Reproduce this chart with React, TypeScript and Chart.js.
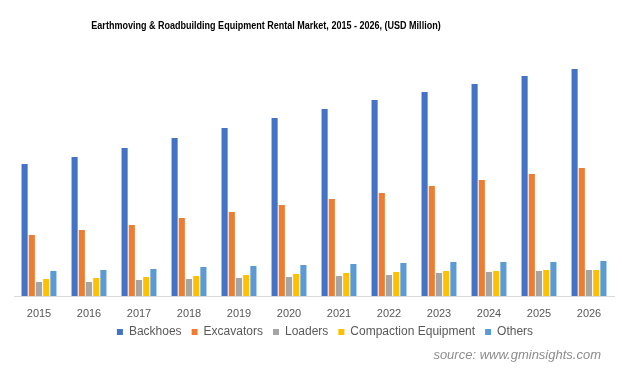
import React, { useEffect, useRef } from "react";
import { Chart, registerables } from "chart.js";

Chart.register(...registerables);

const years = ["2015", "2016", "2017", "2018", "2019", "2020", "2021", "2022", "2023", "2024", "2025", "2026"];
const backhoes = [132, 139, 148, 158, 168, 178, 187, 196, 204, 212, 220, 227];
const excavators = [61, 66, 71, 78, 84, 91, 97, 103, 110, 116, 122, 128];
const loaders = [14, 14, 16, 17, 18, 19, 20, 21, 23, 24, 25, 26];
const compaction = [17, 18, 19, 20, 21, 22, 23, 24, 25, 25, 26, 26];
const others = [25, 26, 27, 29, 30, 31, 32, 33, 34, 34, 34, 35];

const titleText = "Earthmoving & Roadbuilding Equipment Rental Market, 2015 - 2026, (USD Million)";
const sourceText = "source: www.gminsights.com";

const textPlugin = {
  id: "customTexts",
  afterLayout(chart: any) {
    const lg = chart.legend;
    if (lg) {
      lg.left += 11;
      lg.right += 11;
    }
  },
  afterDraw(chart: any) {
    const ctx = chart.ctx;
    ctx.save();
    ctx.font = "bold 11px 'Liberation Sans', Arial, sans-serif";
    ctx.fillStyle = "#000000";
    ctx.textAlign = "center";
    ctx.textBaseline = "middle";
    ctx.translate(266, 25.5);
    ctx.scale(0.82, 1);
    ctx.fillText(titleText, 0, 0);
    ctx.restore();

    ctx.save();
    ctx.font = "italic 13px 'Liberation Sans', Arial, sans-serif";
    ctx.fillStyle = "#8C8C8C";
    ctx.textAlign = "right";
    ctx.textBaseline = "middle";
    ctx.fillText(sourceText, 601, 355);
    ctx.restore();
  },
};

export default function App() {
  const ref = useRef<HTMLCanvasElement>(null);
  useEffect(() => {
    document.body.style.margin = "0";
    const font = "'Liberation Sans', Arial, sans-serif";
    const mk = (label: string, data: number[], color: string) => ({
      label,
      data,
      backgroundColor: color,
      borderWidth: 0,
      categoryPercentage: 0.72,
      barPercentage: 0.85,
    });
    const chart = new Chart(ref.current!, {
      type: "bar",
      data: {
        labels: years,
        datasets: [
          mk("Backhoes", backhoes, "#4472C4"),
          mk("Excavators", excavators, "#ED7D31"),
          mk("Loaders", loaders, "#A5A5A5"),
          mk("Compaction Equipment", compaction, "#FFC000"),
          mk("Others", others, "#5B9BD5"),
        ],
      },
      options: {
        animation: false,
        responsive: false,
        layout: { padding: { top: 46, left: 14, right: 8, bottom: 23 } },
        plugins: {
          title: { display: false },
          tooltip: { enabled: false },
          legend: {
            position: "bottom",
            labels: {
              boxWidth: 6,
              boxHeight: 6,
              padding: 10,
              color: "#595959",
              font: { family: font, size: 12 },
            },
          },
        },
        scales: {
          x: {
            grid: { display: false, drawTicks: false },
            border: { display: true, color: "#D9D9D9", width: 1 },
            ticks: { color: "#595959", font: { family: font, size: 11 }, padding: 11 },
            afterFit(scale: any) {
              scale.height = 20;
              scale._computeLabelArea = () => undefined;
            },
          },
          y: {
            display: false,
            min: 0,
            max: 250,
          },
        },
      },
      plugins: [textPlugin],
    });
    return () => chart.destroy();
  }, []);
  return (
    <div style={{ width: 622, height: 371 }}>
      <canvas ref={ref} width={622} height={371} style={{ width: 622, height: 371 }} />
    </div>
  );
}
